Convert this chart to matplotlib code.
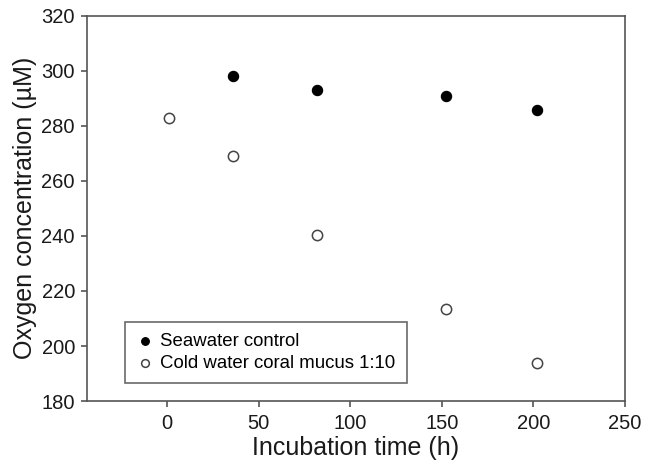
import matplotlib
matplotlib.use('Agg')
import matplotlib.pyplot as plt

# incubation time (h) and oxygen concentration (uM)
time_control = [36, 82, 152, 202]
oxygen_control = [298.2, 293.0, 291.0, 285.8]
time_mucus = [1, 36, 82, 152, 202]
oxygen_mucus = [283.0, 269.1, 240.2, 213.6, 193.9]

plt.rcParams['font.family'] = ['Liberation Sans', 'DejaVu Sans']

fig = plt.figure(figsize=(6.47, 4.61), dpi=100)
ax = fig.add_axes([0.134, 0.130, 0.832, 0.836])

ax.scatter(time_control, oxygen_control, s=55, c='black', edgecolors='black',
           linewidths=0.8, label='Seawater control', zorder=3)
ax.scatter(time_mucus, oxygen_mucus, s=55, c='white', edgecolors='#444444',
           linewidths=1.1, label='Cold water coral mucus 1:10', zorder=3)

ax.set_xlim(-44, 250)
ax.set_ylim(180, 320)
ax.set_xticks([0, 50, 100, 150, 200, 250])
ax.set_yticks(range(180, 321, 20))

ax.set_xlabel('Incubation time (h)', fontsize=18, labelpad=2, color='#1a1a1a')
ax.set_ylabel('Oxygen concentration (µM)', fontsize=18, labelpad=3, color='#1a1a1a')

for sp in ax.spines.values():
    sp.set_color('#555555')
    sp.set_linewidth(1.2)
ax.tick_params(direction='out', length=4.5, width=1.2, color='#555555',
               labelsize=14.5, labelcolor='#1a1a1a', pad=4)
ax.tick_params(axis='x', pad=5)

leg = ax.legend(loc='lower left', bbox_to_anchor=(0.071, 0.047), fontsize=13.4,
                frameon=True, fancybox=False, edgecolor='#444444',
                handletextpad=0.3, borderpad=0.6, handlelength=1.0,
                markerscale=0.75, labelspacing=0.25, borderaxespad=0)
leg.get_frame().set_linewidth(1.2)

plt.savefig('out.png', dpi=100)
